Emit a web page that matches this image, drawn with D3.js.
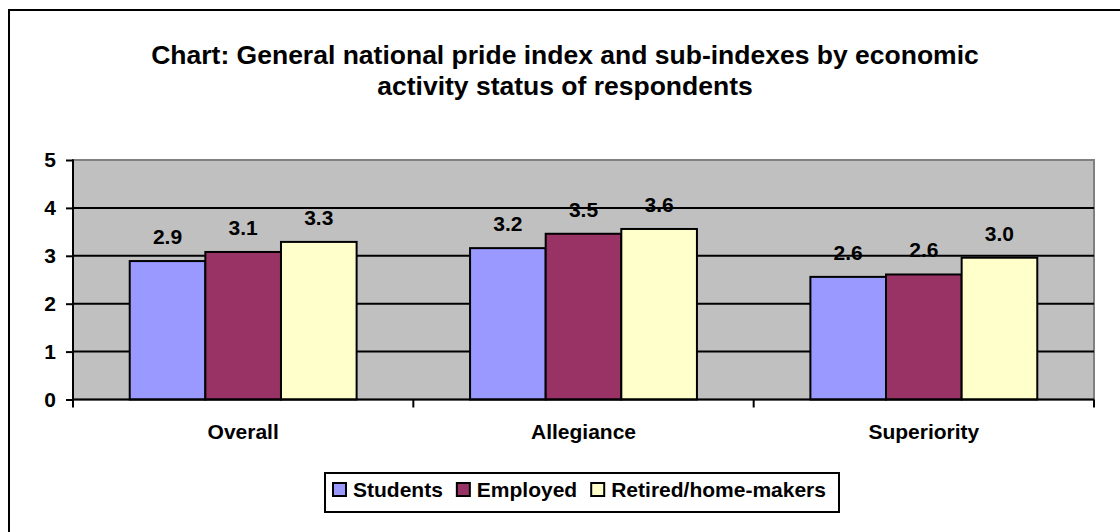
<!DOCTYPE html>
<html>
<head>
<meta charset="utf-8">
<script src="https://cdn.jsdelivr.net/npm/d3@7"></script>
<style>
  body { margin: 0; background: #fff; }
  svg text { font-family: Arial, "Liberation Sans", sans-serif; font-weight: bold; fill: #000; }
</style>
</head>
<body>
<div id="chart"></div>
<script>
var categories = ['Overall', 'Allegiance', 'Superiority']
var seriesNames = ['Students', 'Employed', 'Retired/home-makers']
var students = [2.89, 3.16, 2.56]
var employed = [3.08, 3.46, 2.61]
var retired = [3.29, 3.56, 2.96]
var yTicks = [0, 1, 2, 3, 4, 5]
var titleLines = ['Chart: General national pride index and sub-indexes by economic',
                  'activity status of respondents']

var colors = ['#9999ff', '#993366', '#ffffcc']
var seriesValues = [students, employed, retired]

var width = 1120, height = 532
var plot = {left: 73, right: 1094, top: 160, bottom: 399.5}

var svg = d3.select('#chart')
  .append('svg')
  .attr('width', width)
  .attr('height', height)

// outer frame (right and bottom edges fall outside the picture)
svg.append('rect')
  .attr('x', 9).attr('y', 10)
  .attr('width', 1200).attr('height', 600)
  .attr('fill', 'none')
  .attr('stroke', '#000')
  .attr('stroke-width', 2)

svg.selectAll('.title')
  .data(titleLines)
  .enter().append('text')
  .attr('class', 'title')
  .attr('x', 565)
  .attr('y', (d, i) => 64 + i * 31)
  .attr('text-anchor', 'middle')
  .style('font-size', '26.5px')
  .text(d => d)

var x0 = d3.scaleBand()
  .domain(categories)
  .range([plot.left, plot.right])
  .padding(0)

var x1 = d3.scaleBand()
  .domain(seriesNames)
  .range([0, x0.bandwidth()])
  .paddingInner(0)
  .paddingOuter(0.75)

var y = d3.scaleLinear()
  .domain([0, 5])
  .range([plot.bottom, plot.top])

// plot area
svg.append('rect')
  .attr('x', plot.left).attr('y', plot.top)
  .attr('width', plot.right - plot.left)
  .attr('height', plot.bottom - plot.top)
  .attr('fill', '#c0c0c0')
  .attr('stroke', '#808080')
  .attr('stroke-width', 2)

svg.selectAll('.grid')
  .data(yTicks.filter(d => d > 0 && d < 5))
  .enter().append('line')
  .attr('class', 'grid')
  .attr('x1', plot.left).attr('x2', plot.right)
  .attr('y1', d => y(d)).attr('y2', d => y(d))
  .attr('stroke', '#000')
  .attr('stroke-width', 2)

// y axis
var yAxis = svg.append('g')
  .attr('transform', 'translate(' + plot.left + ',0)')
  .call(d3.axisLeft(y).tickValues(yTicks).tickSize(7).tickPadding(10).tickFormat(d3.format('d')))
yAxis.selectAll('path, line').attr('stroke', '#000').attr('stroke-width', 2)
yAxis.select('.domain').attr('d', 'M0,' + (plot.top - 0.5) + 'V' + plot.bottom)
yAxis.selectAll('text').style('font-size', '21px').attr('font-family', null)

// bars
var groups = svg.selectAll('.series')
  .data(seriesNames)
  .enter().append('g')
  .attr('class', 'series')

groups.selectAll('rect')
  .data((s, si) => categories.map((c, ci) => ({cat: c, series: s, si: si, v: seriesValues[si][ci]})))
  .enter().append('rect')
  .attr('x', d => x0(d.cat) + x1(d.series))
  .attr('y', d => y(d.v))
  .attr('width', x1.bandwidth())
  .attr('height', d => y(0) - y(d.v))
  .attr('fill', d => colors[d.si])
  .attr('stroke', '#000')
  .attr('stroke-width', 2)

groups.selectAll('.label')
  .data((s, si) => categories.map((c, ci) => ({cat: c, series: s, v: seriesValues[si][ci]})))
  .enter().append('text')
  .attr('class', 'label')
  .attr('x', d => x0(d.cat) + x1(d.series) + x1.bandwidth() / 2)
  .attr('y', d => y(d.v) - 17)
  .attr('text-anchor', 'middle')
  .style('font-size', '21px')
  .text(d => d.v.toFixed(1))

// x axis
var xAxis = svg.append('g')
  .attr('transform', 'translate(0,' + plot.bottom + ')')
xAxis.append('line')
  .attr('x1', plot.left - 1).attr('x2', plot.right)
  .attr('stroke', '#000').attr('stroke-width', 2)
xAxis.selectAll('.xtick')
  .data(categories.map(c => x0(c)).concat([plot.right]))
  .enter().append('line')
  .attr('class', 'xtick')
  .attr('x1', d => d).attr('x2', d => d)
  .attr('y1', 0).attr('y2', 8)
  .attr('stroke', '#000').attr('stroke-width', 2)
xAxis.selectAll('.xlabel')
  .data(categories)
  .enter().append('text')
  .attr('class', 'xlabel')
  .attr('x', d => x0(d) + x0.bandwidth() / 2)
  .attr('y', 39.5)
  .attr('text-anchor', 'middle')
  .style('font-size', '21px')
  .text(d => d)

// legend
var legend = svg.append('g').attr('class', 'legend')
var legendBox = legend.append('rect')
  .attr('x', 325).attr('y', 473)
  .attr('width', 514).attr('height', 39)
  .attr('fill', '#fff')
  .attr('stroke', '#000')
  .attr('stroke-width', 2)

var lx = 333
seriesNames.forEach(function(name, i) {
  legend.append('rect')
    .attr('x', lx).attr('y', 483)
    .attr('width', 13).attr('height', 13)
    .attr('fill', colors[i])
    .attr('stroke', '#000')
    .attr('stroke-width', 2)
  var t = legend.append('text')
    .attr('x', lx + 20)
    .attr('y', 497)
    .style('font-size', '21px')
    .text(name)
  lx = lx + 20 + t.node().getComputedTextLength() + 14
})
</script>
</body>
</html>
